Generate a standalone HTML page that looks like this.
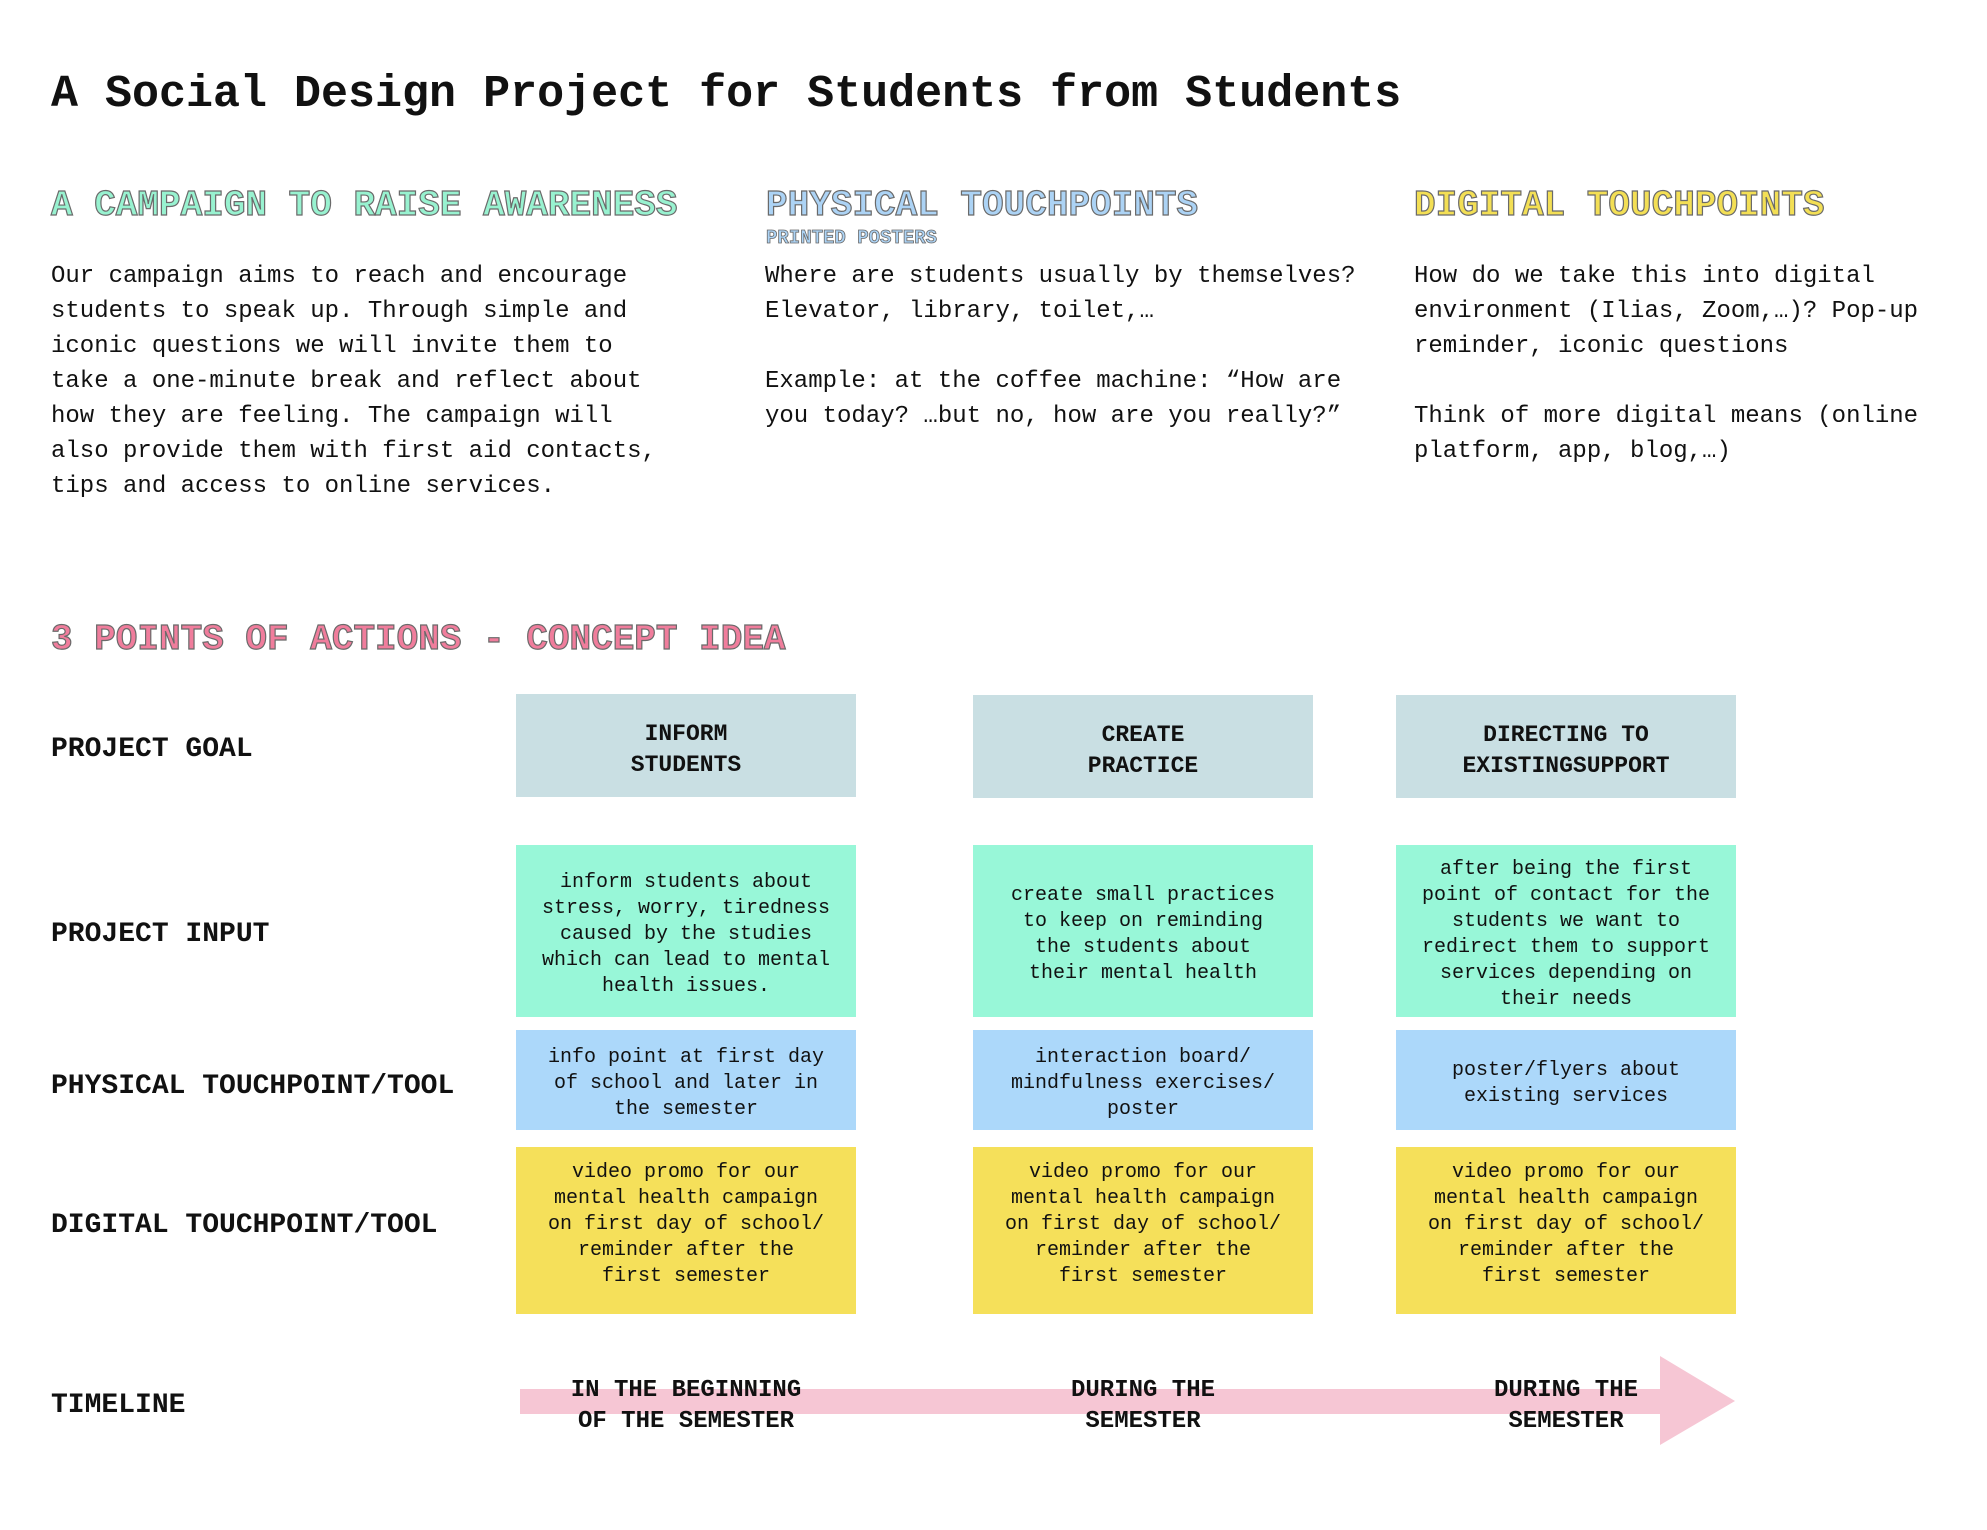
<!DOCTYPE html>
<html><head><meta charset="utf-8"><style>
*{margin:0;padding:0;box-sizing:border-box}
body{width:1987px;height:1530px;background:#fff;position:relative;overflow:hidden;font-family:"Liberation Mono",monospace;color:#111}
.a{position:absolute;white-space:nowrap}
h1{position:absolute;left:51px;top:70px;font-size:45px;font-weight:bold;line-height:50px;white-space:nowrap}
.hd{position:absolute;font-size:36px;font-weight:bold;line-height:40px;-webkit-text-stroke:1.2px #6a6a6a;white-space:nowrap}
.body{position:absolute;font-size:24px;line-height:35px;top:259px;white-space:nowrap}
.lbl{position:absolute;left:51px;font-size:28px;font-weight:bold;line-height:32px;white-space:nowrap}
.box{position:absolute;display:flex;align-items:center;justify-content:center;text-align:center;font-size:20px;line-height:26px;padding-top:8px}
.g{background:#c9dfe3;font-weight:bold;font-size:23px;line-height:31px}
.i{background:#98f7d8}.p{background:#acd8fa}.d{background:#f5e05a;align-items:flex-start;padding-top:13px}
.tl{position:absolute;text-align:center;font-weight:bold;font-size:24px;line-height:31px;width:340px;top:1375px}
</style></head><body>
<h1>A Social Design Project for Students from Students</h1>
<div class="hd" style="left:51px;top:186px;color:#98f2d0">A CAMPAIGN TO RAISE AWARENESS</div>
<div class="hd" style="left:766px;top:186px;color:#acd3f5">PHYSICAL TOUCHPOINTS</div>
<div class="hd" style="left:766px;top:228px;font-size:19px;line-height:20px;-webkit-text-stroke:0.8px #6a6a6a;color:#acd3f5">PRINTED POSTERS</div>
<div class="hd" style="left:1414px;top:186px;color:#f3df55">DIGITAL TOUCHPOINTS</div>
<div class="body" style="left:51px">Our campaign aims to reach and encourage<br>students to speak up. Through simple and<br>iconic questions we will invite them to<br>take a one-minute break and reflect about<br>how they are feeling. The campaign will<br>also provide them with first aid contacts,<br>tips and access to online services.</div>
<div class="body" style="left:765px">Where are students usually by themselves?<br>Elevator, library, toilet,…<br><br>Example: at the coffee machine: “How are<br>you today? …but no, how are you really?”</div>
<div class="body" style="left:1414px">How do we take this into digital<br>environment (Ilias, Zoom,…)? Pop-up<br>reminder, iconic questions<br><br>Think of more digital means (online<br>platform, app, blog,…)</div>
<div class="hd" style="left:51px;top:618px;font-size:36px;line-height:44px;color:#f07d9c">3 POINTS OF ACTIONS - CONCEPT IDEA</div>
<div class="lbl" style="top:734px">PROJECT GOAL</div>
<div class="lbl" style="top:919px">PROJECT INPUT</div>
<div class="lbl" style="top:1071px">PHYSICAL TOUCHPOINT/TOOL</div>
<div class="lbl" style="top:1210px">DIGITAL TOUCHPOINT/TOOL</div>
<div class="lbl" style="top:1390px">TIMELINE</div>

<div class="box g" style="left:516px;top:694px;width:340px;height:103px">INFORM<br>STUDENTS</div>
<div class="box g" style="left:973px;top:695px;width:340px;height:103px">CREATE<br>PRACTICE</div>
<div class="box g" style="left:1396px;top:695px;width:340px;height:103px">DIRECTING TO<br>EXISTINGSUPPORT</div>

<div class="box i" style="left:516px;top:845px;width:340px;height:172px">inform students about<br>stress, worry, tiredness<br>caused by the studies<br>which can lead to mental<br>health issues.</div>
<div class="box i" style="left:973px;top:845px;width:340px;height:172px">create small practices<br>to keep on reminding<br>the students about<br>their mental health</div>
<div class="box i" style="left:1396px;top:845px;width:340px;height:172px">after being the first<br>point of contact for the<br>students we want to<br>redirect them to support<br>services depending on<br>their needs</div>

<div class="box p" style="left:516px;top:1030px;width:340px;height:100px">info point at first day<br>of school and later in<br>the semester</div>
<div class="box p" style="left:973px;top:1030px;width:340px;height:100px">interaction board/<br>mindfulness exercises/<br>poster</div>
<div class="box p" style="left:1396px;top:1030px;width:340px;height:100px">poster/flyers about<br>existing services</div>

<div class="box d" style="left:516px;top:1147px;width:340px;height:167px">video promo for our<br>mental health campaign<br>on first day of school/<br>reminder after the<br>first semester</div>
<div class="box d" style="left:973px;top:1147px;width:340px;height:167px">video promo for our<br>mental health campaign<br>on first day of school/<br>reminder after the<br>first semester</div>
<div class="box d" style="left:1396px;top:1147px;width:340px;height:167px">video promo for our<br>mental health campaign<br>on first day of school/<br>reminder after the<br>first semester</div>

<svg class="a" style="left:0;top:0" width="1987" height="1530"><polygon points="520,1389 1660,1389 1660,1356 1735,1401 1660,1445 1660,1414 520,1414" fill="#f6c6d4"/></svg>
<div class="tl" style="left:516px">IN THE BEGINNING<br>OF THE SEMESTER</div>
<div class="tl" style="left:973px">DURING THE<br>SEMESTER</div>
<div class="tl" style="left:1396px">DURING THE<br>SEMESTER</div>
</body></html>
